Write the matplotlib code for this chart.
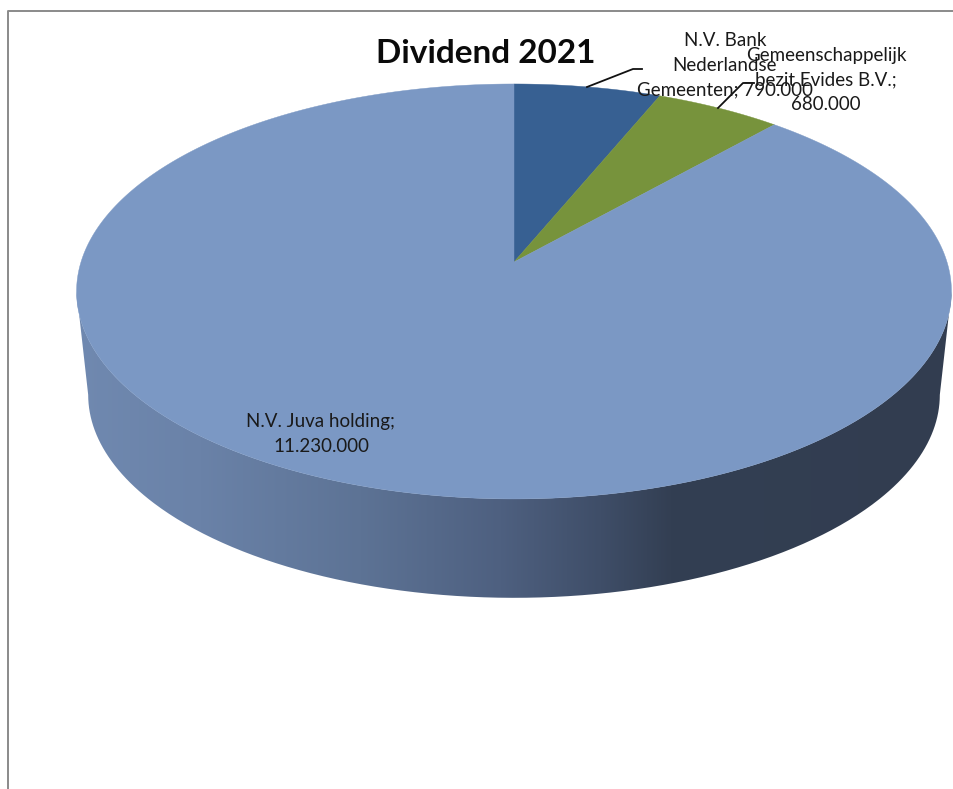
import numpy as np
import matplotlib
matplotlib.use("Agg")
import matplotlib.pyplot as plt
from matplotlib.colors import to_rgb
from matplotlib.patches import PathPatch, Polygon
from matplotlib.path import Path

# data
title = "Dividend 2021"
labels = [
    "N.V. Bank\nNederlandse\nGemeenten; 790.000",
    "Gemeenschappelijk\nbezit Evides B.V.;\n680.000",
    "N.V. Juva holding;\n11.230.000",
]
values = [790000, 680000, 11230000]

colors = ["#376092", "#77933c", "#7b98c4"]
label_pos = [(725, 65), (826, 80), (321, 434)]

# pie geometry in pixels, tilted circle seen in perspective
CX = 514
K = 0.142
TOP = dict(cy=262, a=433, b=203.3)
BOTTOM = dict(cy=366, a=421.5, b=198.9)

# gradient of the side wall, x in pixels
wall_x = [76, 200, 360, 500, 600, 670, 951]
wall_c = ["#7089b0", "#6a82a8", "#5d7395", "#4e6080", "#3f4e68", "#333f53", "#323d50"]


def rim(theta, cy, a, b):
    # theta clockwise from 12 o'clock
    u, v = np.sin(theta), np.cos(theta)
    return np.column_stack([CX + a * u / (1 + K * v), cy - b * v / (1 + K * v)])


plt.rcParams["font.family"] = ["Lato", "DejaVu Sans"]
fig = plt.figure(figsize=(9.54, 7.89), dpi=100)
ax = fig.add_axes([0, 0, 1, 1])

# side wall
t0 = np.arccos(-K)
th = np.linspace(t0, 2 * np.pi - t0, 400)
wall = np.vstack([rim(th, **TOP), rim(th[::-1], **BOTTOM)])
clip = PathPatch(Path(np.vstack([wall, wall[:1]])), fc="none", ec="none", transform=ax.transData)
ax.add_patch(clip)
xs = np.arange(60, 960)
grad = np.array([np.interp(xs, wall_x, [to_rgb(c)[i] for c in wall_c]) for i in range(3)]).T[None, :, :]
im = ax.imshow(grad, extent=(60, 960, 620, 200), aspect="auto", zorder=1)
im.set_clip_path(clip)

# top face
angles = np.cumsum([0] + values) / sum(values) * 2 * np.pi
for i, val in enumerate(values):
    t = np.linspace(angles[i], angles[i + 1], 500)
    pts = np.vstack([[CX, TOP["cy"]], rim(t, **TOP)])
    ax.add_patch(Polygon(pts, closed=True, fc=colors[i], ec=colors[i], lw=0.3, zorder=2))

# leader lines
ax.plot([587, 633, 642], [87, 69, 69], color="#111111", lw=1.3, zorder=3)
ax.plot([718, 743, 754], [108, 83, 83], color="#111111", lw=1.3, zorder=3)

for lab, (x, y) in zip(labels, label_pos):
    ax.text(x, y, lab, ha="center", va="center", fontsize=13.5, color="#1a1a1a",
            linespacing=1.53, zorder=4)
ax.text(486, 53, title, ha="center", va="center", fontsize=24, fontweight="bold",
        color="#0a0a0a", zorder=4)

# frame of the screenshot
ax.plot([8, 8, 954], [789, 11, 11], color="#8a8a8a", lw=1.4, zorder=5)

ax.set_xlim(0, 954)
ax.set_ylim(789, 0)
ax.axis("off")
fig.savefig("out.png", dpi=100, facecolor="white")
